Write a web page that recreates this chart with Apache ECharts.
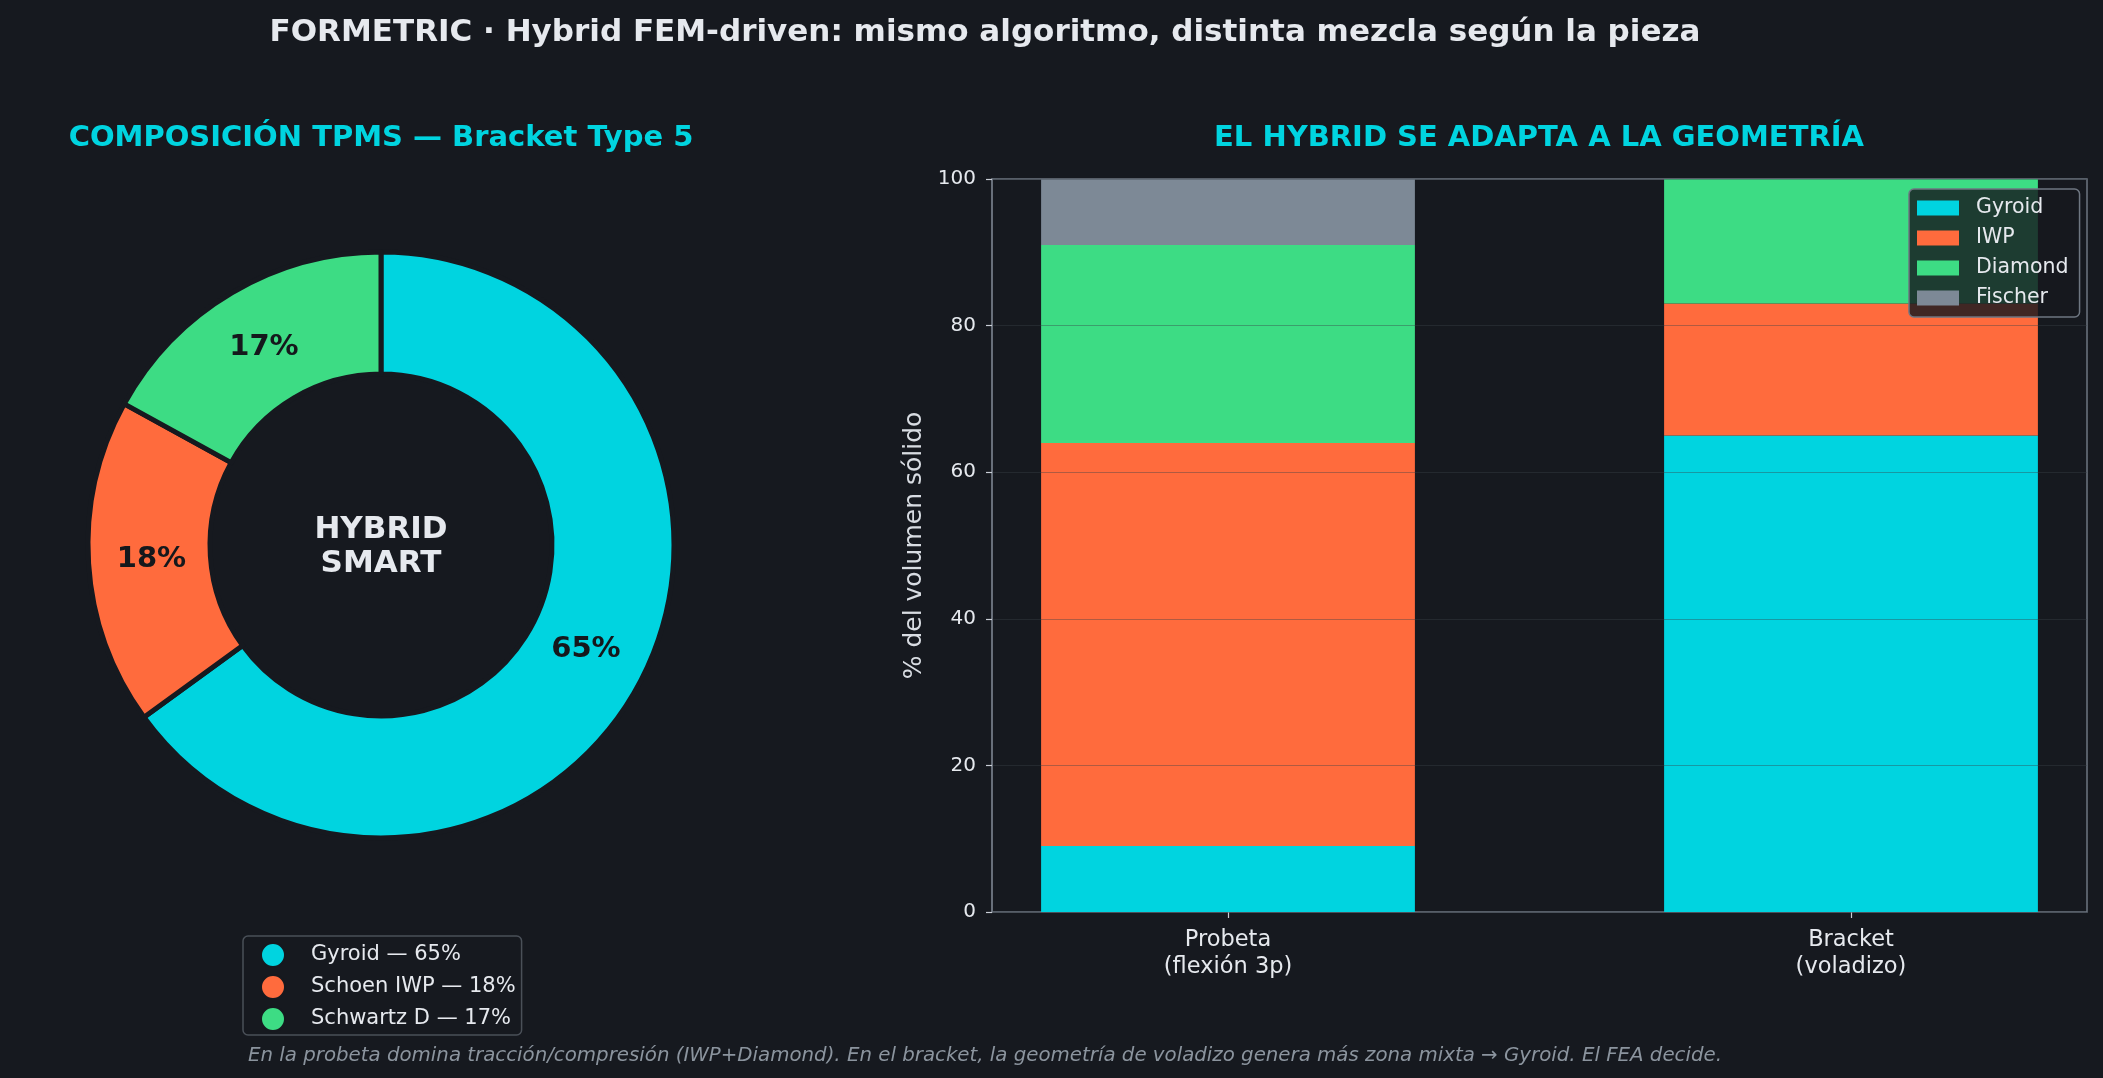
<!DOCTYPE html>
<html>
<head>
<meta charset="utf-8">
<title>FORMETRIC · Hybrid FEM-driven</title>
<script src="https://cdn.jsdelivr.net/npm/echarts@6/dist/echarts.min.js"></script>
<style>
  html, body { margin: 0; padding: 0; background: #16191f; }
  #main { width: 2103px; height: 1078px; }
</style>
</head>
<body>
<div id="main"></div>
<script>
// composicion del hybrid en el bracket (donut)
var tpmsNames = ['Gyroid', 'Schoen IWP', 'Schwartz D']
var tpmsPct = [65, 18, 17]

// mezcla por pieza (barras apiladas, % del volumen solido)
var piezas = ['Probeta\n(flexión 3p)', 'Bracket\n(voladizo)']
var serieNames = ['Gyroid', 'IWP', 'Diamond', 'Fischer']
var gyroid = [9, 65]
var iwp = [55, 18]
var diamond = [27, 17]
var fischer = [9, 0]

var yMin = 0, yMax = 100, yStep = 20

var bg = '#16191f'
var txt = '#e6e9ee'
var spine = '#6e7681'
var colors = ['#00d4e0', '#ff6b3d', '#3ddc84', '#7d8996']
var font = '"DejaVu Sans", Verdana, sans-serif'

var chart = echarts.init(document.getElementById('main'), null, { renderer: 'canvas' })

var pieData = []
for (let i in tpmsNames) {
  pieData.push({
    name: tpmsNames[i] + ' — ' + tpmsPct[i] + '%',
    value: tpmsPct[i],
    itemStyle: { color: colors[i] }
  })
}

var stacks = [gyroid, iwp, diamond, fischer]
var barSeries = []
for (let i in stacks) {
  barSeries.push({
    type: 'bar',
    name: serieNames[i],
    stack: 'mix',
    xAxisIndex: 0,
    yAxisIndex: 0,
    barWidth: '60%',
    data: stacks[i],
    itemStyle: { color: colors[i] },
    emphasis: { disabled: true }
  })
}

var option = {
  backgroundColor: bg,
  animation: false,
  textStyle: { fontFamily: font },
  graphic: [
    { type: 'text', x: 985, y: 33, style: { text: 'FORMETRIC · Hybrid FEM-driven: mismo algoritmo, distinta mezcla según la pieza', fill: txt, fontSize: 31, fontWeight: 'bold', fontFamily: font, align: 'center', verticalAlign: 'middle' } },
    { type: 'text', x: 381, y: 138, style: { text: 'COMPOSICIÓN TPMS — Bracket Type 5', fill: colors[0], fontSize: 29, fontWeight: 'bold', fontFamily: font, align: 'center', verticalAlign: 'middle' } },
    { type: 'text', x: 1539, y: 138, style: { text: 'EL HYBRID SE ADAPTA A LA GEOMETRÍA', fill: colors[0], fontSize: 29, fontWeight: 'bold', fontFamily: font, align: 'center', verticalAlign: 'middle' } },
    { type: 'text', x: 381, y: 547, z: 10, style: { text: 'HYBRID\nSMART', fill: txt, fontSize: 31, lineHeight: 34, fontWeight: 'bold', fontFamily: font, align: 'center', verticalAlign: 'middle' } },
    { type: 'text', x: 985, y: 1056, style: { text: 'En la probeta domina tracción/compresión (IWP+Diamond). En el bracket, la geometría de voladizo genera más zona mixta → Gyroid. El FEA decide.', fill: '#8b949e', fontSize: 19.8, fontStyle: 'italic', fontFamily: font, align: 'center', verticalAlign: 'middle' } }
  ],
  legend: [
    {
      data: pieData.map(function (d) { return d.name }),
      orient: 'vertical',
      left: 243,
      top: 936,
      icon: 'circle',
      itemWidth: 24,
      itemHeight: 24,
      itemGap: 6,
      padding: [6, 6, 3, 17],
      backgroundColor: bg,
      borderColor: '#4a5058',
      borderWidth: 1.5,
      borderRadius: 5,
      selectedMode: false,
      textStyle: { color: txt, fontSize: 21, lineHeight: 24, padding: [0, 0, 0, 21], fontFamily: font }
    },
    {
      data: serieNames,
      orient: 'vertical',
      left: 1909,
      top: 189,
      icon: 'rect',
      itemWidth: 42,
      itemHeight: 15,
      itemGap: 6,
      padding: [7, 11, 7, 8],
      backgroundColor: 'rgba(22,25,31,0.82)',
      borderColor: '#6e7681',
      borderWidth: 1.5,
      borderRadius: 5,
      selectedMode: false,
      z: 10,
      textStyle: { color: txt, fontSize: 20.5, lineHeight: 24, padding: [0, 0, 0, 12], fontFamily: font }
    }
  ],
  // grid 0: categorias (ancho para que los centros caigan donde toca), grid 1: marco y eje y
  grid: [
    { left: 916.5, width: 1246, top: 179, bottom: 166, outerBoundsMode: 'none', containLabel: false },
    { left: 992, right: 16, top: 179, bottom: 166, outerBoundsMode: 'none', show: true, borderColor: spine, borderWidth: 1.5, backgroundColor: 'transparent' }
  ],
  xAxis: [
    {
      type: 'category',
      gridIndex: 0,
      data: piezas,
      axisLine: { show: false },
      axisTick: { show: true, alignWithLabel: true, length: 6, lineStyle: { color: '#c9ced6', width: 1.2 } },
      axisLabel: { color: txt, fontSize: 22.5, lineHeight: 27, margin: 15, fontFamily: font }
    },
    { type: 'value', gridIndex: 1, min: -0.38, max: 1.38, show: false }
  ],
  yAxis: [
    { type: 'value', gridIndex: 0, min: yMin, max: yMax, show: false },
    {
      type: 'value',
      gridIndex: 1,
      min: yMin,
      max: yMax,
      interval: yStep,
      z: 3,
      name: '% del volumen sólido',
      nameLocation: 'middle',
      nameGap: 64,
      nameTextStyle: { color: '#d8dce2', fontSize: 25, fontFamily: font },
      axisLine: { show: true, onZero: false, lineStyle: { color: spine, width: 1.5 } },
      axisTick: { show: true, length: 6, lineStyle: { color: '#c9ced6', width: 1.2 } },
      axisLabel: { color: txt, fontSize: 20, margin: 16, fontFamily: font },
      splitLine: { show: true, lineStyle: { color: 'rgba(58,64,72,0.4)', width: 1.2 } }
    }
  ],
  series: [
    {
      type: 'pie',
      name: 'Composición',
      center: [381, 545],
      radius: [171, 293],
      startAngle: 90,
      clockwise: true,
      data: pieData,
      itemStyle: { borderColor: bg, borderWidth: 5 },
      label: { show: false },
      labelLine: { show: false },
      emphasis: { disabled: true }
    },
    {
      // misma dona, transparente, solo para colocar los % algo mas adentro
      type: 'pie',
      name: 'Etiquetas',
      center: [381, 545],
      radius: [161, 293],
      startAngle: 90,
      clockwise: true,
      silent: true,
      data: tpmsPct.map(function (v) { return { value: v } }),
      itemStyle: { color: 'rgba(0,0,0,0)' },
      label: {
        show: true,
        position: 'inside',
        formatter: function (p) { return p.value + '%' },
        color: '#15181c',
        fontSize: 29,
        fontWeight: 'bold',
        fontFamily: font
      },
      labelLine: { show: false },
      emphasis: { disabled: true }
    }
  ].concat(barSeries)
}

chart.setOption(option)
</script>
</body>
</html>
